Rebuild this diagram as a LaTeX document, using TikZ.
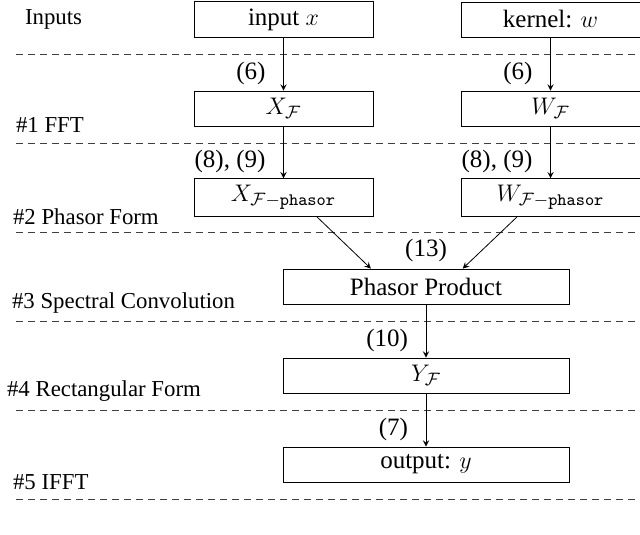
\documentclass[tikz,border=0pt]{standalone}
\usepackage{fontspec}
\setmainfont{Liberation Serif}
\usetikzlibrary{arrows, positioning}
\tikzstyle{block} = [rectangle, minimum width=89.5pt, minimum height=17.5pt, text centered, draw=black]
\tikzstyle{wideblock} = [rectangle, minimum width=143pt, minimum height=17.5pt, text centered, draw=black]
\tikzstyle{stage} = [anchor=west, font=\fontsize{11.4}{13}\selectfont]
\tikzstyle{eqlabel} = [anchor=east, pos=0.67, xshift=-5.5pt]
\tikzstyle{arrow} = [->,>=stealth]
\tikzstyle{sep} = [dash pattern=on 3.5pt off 2.5pt, draw=black!75]

\begin{document}
\begin{tikzpicture}[x=0.5pt, y=-0.5pt, node distance=44.5pt, font=\fontsize{12.5}{14}\selectfont]
    \useasboundingbox (0,0) rectangle (640,534);

    % Blocos
    \node (input) [block] at (283.5,19.5) {input $x$};
    \node (kernel) [block, right of=input, xshift=89pt] {kernel: $w$};
    \node (xf) [block, below of=input] {$X_{\mathcal{F}}$};
    \node (wf) [block, below of=kernel] {$W_{\mathcal{F}}$};
    \node (xph) [block, below of=xf] {$X_{\mathcal{F}-\mathtt{phasor}}$};
    \node (wph) [block, below of=wf] {$W_{\mathcal{F}-\mathtt{phasor}}$};
    \node (prod) [wideblock, below of=xph, xshift=71.25pt] {Phasor Product};
    \node (yf) [wideblock, below of=prod] {$Y_{\mathcal{F}}$};
    \node (output) [wideblock, below of=yf] {output: $y$};
    \node (eqprod) [above=0pt of prod] {(13)};

    % Etapas
    \node (st0) [stage] at (18,19) {Inputs};
    \node (st1) [stage] at (9,125) {\#1 FFT};
    \node (st2) [stage] at (6,217) {\#2 Phasor Form};
    \node (st3) [stage] at (5,303) {\#3 Spectral Convolution};
    \node (st4) [stage] at (0,391) {\#4 Rectangular Form};
    \node (st5) [stage] at (6,482) {\#5 IFFT};

    % Separadores
    \foreach \y in {54,143,232,321,410,499}
        \draw [sep] (16,\y) -- (640,\y);

    % Setas
    \draw [arrow] (input) -- node[eqlabel] {(6)} (xf);
    \draw [arrow] (kernel) -- node[eqlabel] {(6)} (wf);
    \draw [arrow] (xf) -- node[eqlabel] {(8), (9)} (xph);
    \draw [arrow] (wf) -- node[eqlabel] {(8), (9)} (wph);
    \draw [arrow] (xph.-30) -- (prod.162);
    \draw [arrow] (wph.210) -- (prod.26);
    \draw [arrow] (prod) -- node[eqlabel] {(10)} (yf);
    \draw [arrow] (yf) -- node[eqlabel] {(7)} (output);

\end{tikzpicture}
\end{document}
